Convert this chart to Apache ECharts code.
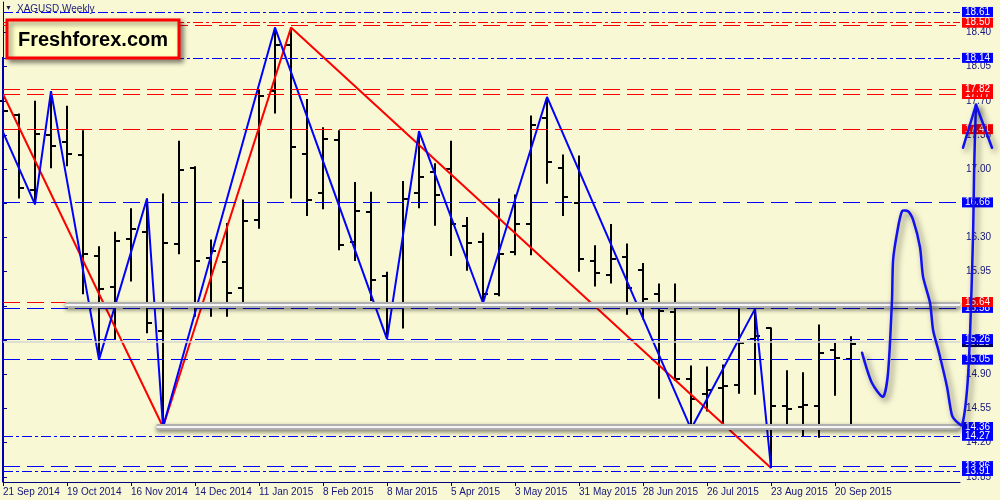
<!DOCTYPE html>
<html><head><meta charset="utf-8">
<script src="https://cdn.jsdelivr.net/npm/echarts@6/dist/echarts.min.js"></script>
<style>html,body{margin:0;padding:0;background:#f8f8d4}#c{width:1000px;height:500px}</style>
</head><body><div id="c"></div>
<script>
// ---- data ----
const weekLabels = ['21 Sep 2014','19 Oct 2014','16 Nov 2014','14 Dec 2014','11 Jan 2015','8 Feb 2015','8 Mar 2015','5 Apr 2015','3 May 2015','31 May 2015','28 Jun 2015','26 Jul 2015','23 Aug 2015','20 Sep 2015'];
const labelWeeks = [0,4,8,12,16,20,24,28,32,36,40,44,48,52];
const yTicks = [13.85,14.20,14.55,14.90,15.25,15.60,15.95,16.30,16.65,17.00,17.35,17.70,18.05,18.40];

const opens  = [17.70,17.56,16.79,17.35,17.28,17.15,16.11,15.79,16.29,16.36,15.34,16.23,17.01,16.09,16.05,15.78,16.48,17.80,18.27,17.16,16.76,17.30,16.25,16.56,15.91,15.63,16.76,16.97,17.00,16.42,16.25,15.72,16.15,16.44,17.52,17.01,16.65,16.06,15.92,16.10,15.97,15.72,15.54,14.85,14.70,14.76,14.79,15.26,15.37,14.58,14.56,14.58,15.15,15.06];
const highs  = [17.78,17.57,17.70,17.80,17.65,17.40,16.21,16.36,16.60,16.70,16.75,17.29,17.03,16.28,16.45,16.69,17.82,18.45,18.45,17.72,17.43,17.40,16.87,16.77,15.95,16.88,17.39,17.06,17.29,16.51,16.35,16.70,16.74,17.55,17.74,17.15,17.14,16.22,16.44,16.24,16.04,15.83,15.83,14.99,14.98,15.00,15.57,15.57,15.38,14.94,14.92,15.41,15.22,15.29];
const lows   = [17.32,16.70,16.64,17.01,17.03,15.72,15.05,15.25,15.85,15.32,14.36,16.13,15.49,15.49,15.49,15.62,16.39,17.57,16.70,16.52,16.59,16.17,16.06,15.65,15.26,15.37,16.60,16.42,16.11,15.96,15.63,15.70,16.12,16.12,16.85,16.52,15.95,15.80,15.83,15.51,15.46,14.65,14.83,14.34,14.52,14.36,14.70,14.69,13.94,14.39,14.26,14.25,14.68,14.36];
const closes = [17.60,16.81,17.36,17.24,17.16,16.13,15.77,16.26,16.39,15.43,16.24,16.99,16.06,16.16,15.73,16.47,17.75,18.27,17.23,16.68,17.31,16.22,16.57,15.87,15.60,16.69,16.92,16.74,16.44,16.24,15.72,16.13,16.44,17.45,17.07,16.72,16.08,15.94,16.08,15.78,15.67,15.55,14.85,14.65,14.74,14.78,15.22,15.29,14.58,14.54,14.59,15.12,15.07,15.21];

const blueZigWeek = [0,2,3,6,9,10,17,24,26,30,34,43,47,48];
const blueZigPrice = [17.38,16.64,17.80,15.05,16.70,14.36,18.45,15.26,17.39,15.63,17.74,14.34,15.57,13.94];
const redZigWeek = [0,10,18,48];
const redZigPrice = [17.77,14.36,18.45,13.94];

const forecastWeek  = [53.69,54.31,55.0,55.31,55.56,55.63,55.88,56.19,56.56,56.88,57.31,57.5,57.94,58.13,58.5,59.0,59.31,59.63,59.94,60.25,60.44,60.63,60.69,60.75,60.81];
const forecastPrice = [15.12,14.81,14.67,14.91,15.66,16.07,16.35,16.57,16.57,16.48,16.20,15.90,15.63,15.35,15.12,14.77,14.48,14.41,14.38,14.74,15.32,16.35,16.96,17.37,17.66];
const arrowWeek = [60.0,60.81,61.81];
const arrowPrice = [17.22,17.66,17.22];

// horizontal levels
const levelValues = [18.61,18.50,18.47,18.14,17.82,17.77,17.41,16.66,15.64,15.58,15.26,15.05,14.36,14.27,13.96,13.91];
const levelColors = ['b','r','r','b','r','r','r','b','r','b','b','b','b','b','b','b'];
const levelStyles = ['dd','dd','d','dd','d','d','d','d','d','d','d','d','none','dd','d','dd'];
const levelBoxed  = [1,1,0,1,1,2,1,1,1,2,1,1,1,1,2,1]; // 2 = box drawn underneath
const grayLevels = [15.61,14.36];
const grayStartWeek = [3.9,9.6];
const thinGrayLevel = 15.23;

// ---- chart ----
const XMAX = 59.81, YMIN = 13.797, YMAX = 18.712;
const BLUE = '#0000ff', RED = '#ff0000', NAVY = '#14147a';
const FONT = 'Liberation Sans, Arial, sans-serif';
const ohlc = opens.map((o,i)=>[i,o,highs[i],lows[i],closes[i]]);

function boxLabel(text, bg){
  return {show:true, position:'end', distance:2, formatter:text, backgroundColor:bg,
    color:'#ffffff', fontSize:10, fontFamily:FONT, lineHeight:10, padding:[0,3,0,3]};
}
const topLines = [], underLines = [];
levelValues.forEach((v,k)=>{
  const col = levelColors[k]==='b'?BLUE:RED;
  const st = levelStyles[k];
  const item = {yAxis:v, lineStyle:{color: st==='none'?'rgba(0,0,0,0)':col, width:1,
    type: st==='dd'?[10,3,3,3]:(st==='none'?'solid':[17,7])}};
  if(levelBoxed[k]===1){ item.label = boxLabel(v.toFixed(2), col); topLines.push(item); }
  else if(levelBoxed[k]===2){ item.label = boxLabel(v.toFixed(2), col); underLines.push(item); }
  else { item.label = {show:false}; topLines.push(item); }
});
underLines.push({yAxis:thinGrayLevel, lineStyle:{color:'#d6d6d0',width:1.5,type:'solid'}, label:boxLabel(thinGrayLevel.toFixed(2),'#00005a')});

const grayOuter = grayLevels.map((v,k)=>[{coord:[grayStartWeek[k],v]},{coord:[XMAX,v]}]);
const grayInner = grayLevels.map((v,k)=>[{coord:[grayStartWeek[k],v]},{coord:[XMAX,v]}]);

const penStyle = {stroke:'#1010f0',lineWidth:2.5,fill:null,lineJoin:'round',lineCap:'round',
  shadowBlur:6,shadowOffsetX:3,shadowOffsetY:3,shadowColor:'rgba(0,0,0,0.55)'};

const chart = echarts.init(document.getElementById('c'), null, {renderer:'canvas'});
chart.setOption({
  animation:false,
  backgroundColor:'#f8f8d4',
  grid:{left:3,right:40,top:2,bottom:18},
  xAxis:{type:'value',min:0,max:XMAX,
    axisLine:{show:true,lineStyle:{color:'#000080',width:1}},
    axisTick:{show:true,length:4,customValues:labelWeeks,lineStyle:{color:'#000080'}},
    axisLabel:{customValues:labelWeeks,formatter:v=>weekLabels[labelWeeks.indexOf(Math.round(v))]||'',
      color:NAVY,fontSize:10,fontFamily:FONT,align:'left',margin:5,showMinLabel:true,showMaxLabel:true},
    splitLine:{show:false}},
  yAxis:{type:'value',position:'right',min:YMIN,max:YMAX,
    axisLine:{show:true,lineStyle:{color:'#000080',width:1}},
    axisTick:{show:true,length:4,customValues:yTicks,lineStyle:{color:'#000080'}},
    axisLabel:{customValues:yTicks,formatter:v=>v.toFixed(2),color:NAVY,fontSize:10,fontFamily:FONT,margin:6},
    splitLine:{show:false}},
  graphic:[
    {type:'line',z:100,shape:{x1:2.5,y1:57,x2:2.5,y2:482},style:{stroke:'#0000b0',lineWidth:1}},
    {type:'text',z:100,left:5,top:5,style:{text:'▼',fontSize:7,fill:'#1a1a5a',fontFamily:FONT}},
    {type:'text',z:100,left:17,top:4,style:{text:'XAGUSD,Weekly',fontSize:10,fill:'#1e1e78',fontFamily:FONT}},
    {type:'rect',z:100,shape:{x:7,y:20,width:172,height:38},
      style:{fill:'#ffffc8',stroke:'#ff0000',lineWidth:3,shadowBlur:5,shadowOffsetX:3,shadowOffsetY:3,shadowColor:'rgba(0,0,0,0.45)'}},
    {type:'text',z:101,x:93,y:40,style:{text:'Freshforex.com',fontSize:20,fontWeight:'bold',fill:'#000',
      fontFamily:FONT,align:'center',verticalAlign:'middle'}}
  ],
  series:[
    {type:'line',data:[],z:1,silent:true,
      markLine:{silent:true,symbol:'none',animation:false,data:underLines}},
    {type:'line',data:[],z:2,silent:true,
      markLine:{silent:true,symbol:'none',animation:false,data:topLines}},
    {type:'custom',z:3,silent:true,data:ohlc,encode:{x:0,y:[1,2,3,4]},
      renderItem:function(params,api){
        const i=api.value(0);
        const pO=api.coord([i,api.value(1)]), pH=api.coord([i,api.value(2)]);
        const pL=api.coord([i,api.value(3)]), pC=api.coord([i,api.value(4)]);
        const x=Math.round(pH[0]); const st={stroke:'#000',lineWidth:2};
        return {type:'group',children:[
          {type:'line',shape:{x1:x,y1:pH[1],x2:x,y2:pL[1]},style:st},
          {type:'line',shape:{x1:x-5,y1:Math.round(pO[1]),x2:x,y2:Math.round(pO[1])},style:st},
          {type:'line',shape:{x1:x,y1:Math.round(pC[1]),x2:x+5,y2:Math.round(pC[1])},style:st}
        ]};
      }},
    {type:'line',z:4,silent:true,symbol:'none',data:redZigWeek.map((w,k)=>[w,redZigPrice[k]]),
      lineStyle:{color:RED,width:2}},
    {type:'line',z:4,silent:true,symbol:'none',data:blueZigWeek.map((w,k)=>[w,blueZigPrice[k]]),
      lineStyle:{color:BLUE,width:2}},
    {type:'line',data:[],z:5,silent:true,
      markLine:{silent:true,symbol:'none',animation:false,label:{show:false},
        lineStyle:{color:'#b0b0b0',width:6,type:'solid',shadowBlur:4,shadowOffsetY:2,shadowColor:'rgba(0,0,0,0.5)'},
        data:grayOuter}},
    {type:'line',data:[],z:6,silent:true,
      markLine:{silent:true,symbol:'none',animation:false,label:{show:false},
        lineStyle:{color:'#f6f6f6',width:2,type:'solid'},data:grayInner}},
    {type:'custom',z:8,silent:true,clip:false,data:[[forecastWeek[0],forecastPrice[0]]],encode:{x:0,y:1},
      renderItem:function(params,api){
        const pts = forecastWeek.map((w,k)=>api.coord([w,forecastPrice[k]]));
        const arr = arrowWeek.map((w,k)=>api.coord([w,arrowPrice[k]]));
        return {type:'group',children:[
          {type:'polyline',shape:{points:pts,smooth:0.25},style:penStyle},
          {type:'polyline',shape:{points:arr},style:penStyle}
        ]};
      }}
  ]
});
</script></body></html>
